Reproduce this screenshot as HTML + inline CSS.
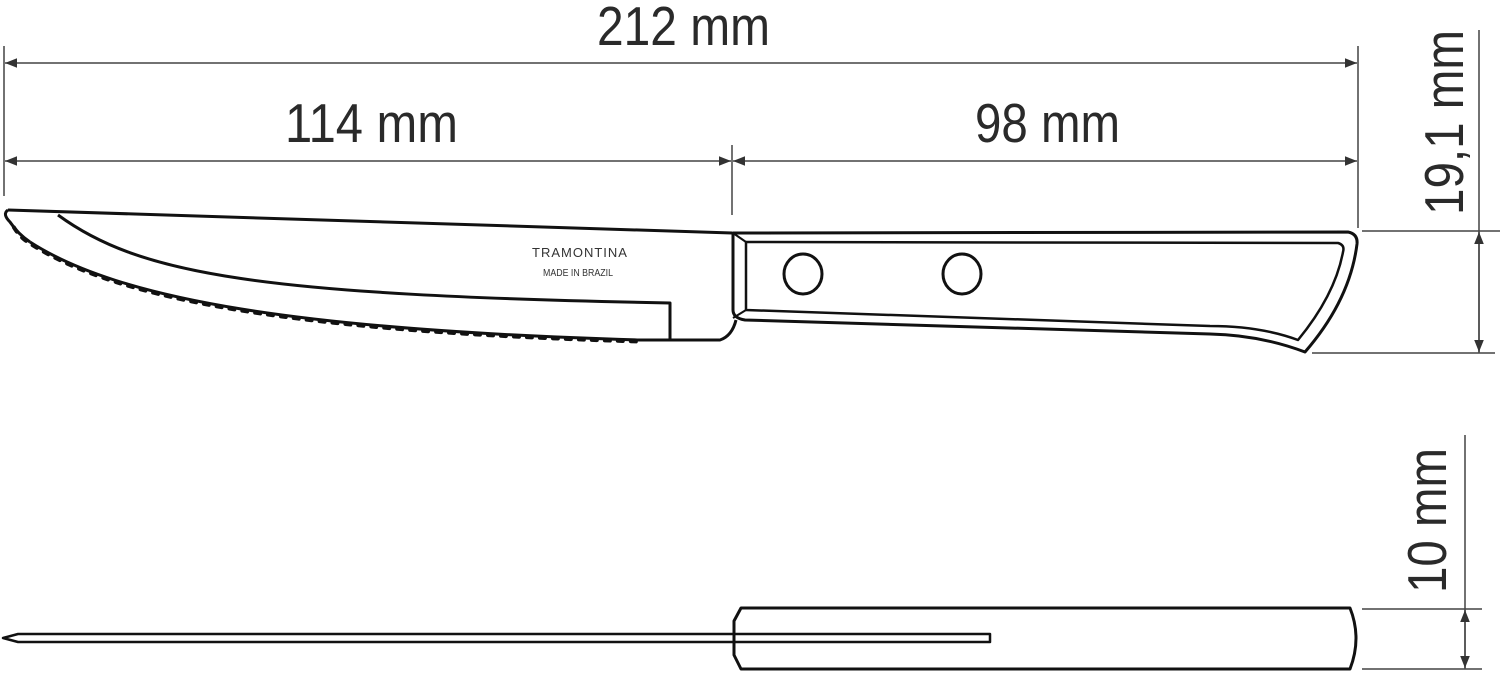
<!DOCTYPE html>
<html><head><meta charset="utf-8"><style>
html,body{margin:0;padding:0;background:#fff;}
svg{display:block}
.t{font-family:"Liberation Sans Narrow","Liberation Sans",sans-serif;font-size:55px;fill:#2a2a2a}
</style></head><body>
<svg width="1500" height="675" viewBox="0 0 1500 675" xmlns="http://www.w3.org/2000/svg">
<defs>
<marker id="a" viewBox="0 0 10 10" refX="10" refY="5" markerWidth="24" markerHeight="12" markerUnits="userSpaceOnUse" orient="auto-start-reverse">
<path d="M0,1 L10,5 L0,9 z" fill="#333"/></marker>
</defs>
<g stroke="#444" stroke-width="1.5" fill="none">
<line x1="4" y1="46" x2="4" y2="196"/>
<line x1="732" y1="145" x2="732" y2="215"/>
<line x1="1358" y1="46" x2="1358" y2="228"/>
<line x1="5" y1="63" x2="1357" y2="63" marker-start="url(#a)" marker-end="url(#a)"/>
<line x1="5" y1="161" x2="731" y2="161" marker-start="url(#a)" marker-end="url(#a)"/>
<line x1="733" y1="161" x2="1357" y2="161" marker-start="url(#a)" marker-end="url(#a)"/>
<line x1="1362" y1="231" x2="1500" y2="231"/>
<line x1="1312" y1="353" x2="1495" y2="353"/>
<line x1="1479" y1="30" x2="1479" y2="353"/>
<line x1="1479" y1="232" x2="1479" y2="352" marker-start="url(#a)" marker-end="url(#a)"/>
<line x1="1362" y1="609" x2="1482" y2="609"/>
<line x1="1362" y1="669" x2="1482" y2="669"/>
<line x1="1465" y1="435" x2="1465" y2="669"/>
<line x1="1465" y1="610" x2="1465" y2="668" marker-start="url(#a)" marker-end="url(#a)"/>
</g>
<text class="t" x="597" y="45" textLength="173" lengthAdjust="spacingAndGlyphs">212 mm</text>
<text class="t" x="285" y="142" textLength="173" lengthAdjust="spacingAndGlyphs">114 mm</text>
<text class="t" x="975" y="142" textLength="145" lengthAdjust="spacingAndGlyphs">98 mm</text>
<text class="t" transform="translate(1463,215) rotate(-90)" textLength="185" lengthAdjust="spacingAndGlyphs">19,1 mm</text>
<text class="t" transform="translate(1446,593) rotate(-90)" textLength="145" lengthAdjust="spacingAndGlyphs">10 mm</text>

<g stroke="#111" stroke-width="3" fill="none" stroke-linejoin="round">
<path d="M8,210 L732,233"/>
<path d="M8,210 Q2,214 10,222 Q18,234 30,242"/>
<path d="M30,242 C120,300 300,330 640,340 L720,340 Q732,336 736,320"/>
<path d="M14,226 Q20,236 30,242 C120,300 300,330 640,340" stroke-dasharray="5 8" stroke-width="4" stroke-linecap="round" transform="translate(0,1.5)"/>
<path d="M58,215 C140,275 260,295 670,303 L670,340"/>
<path d="M733,233 L1348,232 Q1358,234 1357,244 Q1350,300 1305,352 Q1260,335 1210,334 L745,320 Q733,318 733,310 Z"/>
<path d="M746,242 L1338,243 Q1345,245 1343,252 Q1335,295 1298,340 Q1260,326 1210,326 L746,310 Z" stroke-width="2.5"/>
<line x1="733" y1="233" x2="746" y2="242" stroke-width="2"/>
<line x1="733" y1="318" x2="746" y2="310" stroke-width="2"/>
<ellipse cx="803" cy="274" rx="19" ry="20"/>
<ellipse cx="962" cy="274" rx="19" ry="20"/>
<path d="M741,608 L1350,608 Q1362,638 1350,669 L741,669 L734,655 L734,621 Z"/>
<path d="M3,638 L18,634 L990,634 L990,642 L18,642 Z" stroke-width="2.5"/>
</g>
<text x="580" y="257" text-anchor="middle" font-family="Liberation Sans,sans-serif" font-size="13" fill="#333" letter-spacing="1">TRAMONTINA</text>
<text x="578" y="276" text-anchor="middle" font-family="Liberation Sans,sans-serif" font-size="10" fill="#333" textLength="70" lengthAdjust="spacingAndGlyphs">MADE IN BRAZIL</text>
</svg>
</body></html>
